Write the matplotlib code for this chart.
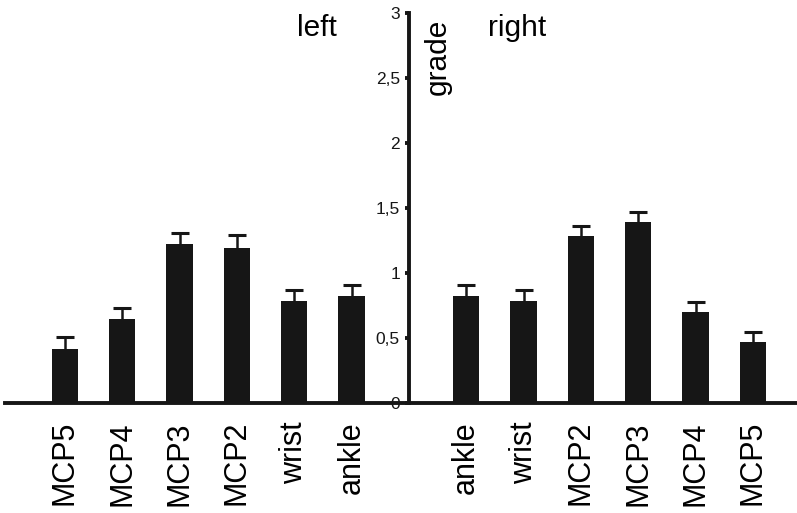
# grade per joint, left and right side, bars mirrored around the y axis

import numpy as np
import matplotlib
matplotlib.use("Agg")
import matplotlib.pyplot as plt

plt.rcParams['font.family'] = ['Liberation Sans', 'DejaVu Sans']

left_labels = ['MCP5', 'MCP4', 'MCP3', 'MCP2', 'wrist', 'ankle']
left_means = [0.415, 0.645, 1.225, 1.19, 0.785, 0.82]
left_err = [0.095, 0.085, 0.085, 0.10, 0.085, 0.09]

right_labels = ['ankle', 'wrist', 'MCP2', 'MCP3', 'MCP4', 'MCP5']
right_means = [0.82, 0.785, 1.285, 1.39, 0.70, 0.47]
right_err = [0.09, 0.085, 0.08, 0.08, 0.08, 0.08]

ytick_vals = [0, 0.5, 1, 1.5, 2, 2.5, 3]
ytick_labels = ['0', '0,5', '1', '1,5', '2', '2,5', '3']

bar_col = '#161616'

fig = plt.figure(figsize=(7.97, 5.13), dpi=100)
ax = fig.add_axes([0.006, 0.2144, 0.994, 0.7602])

xl = np.arange(-len(left_labels), 0)
xr = np.arange(1, len(right_labels) + 1)
xs = np.concatenate([xl, xr])
means = np.array(left_means + right_means)
errs = np.array(left_err + right_err)

ax.bar(xs, means, width=0.46, color=bar_col, zorder=2)
# symmetric error bars, the lower half is hidden behind the bars
ax.errorbar(xs, means, yerr=errs, fmt='none',
            ecolor=bar_col, elinewidth=1.8, capsize=6.8, capthick=2.2, zorder=1)

ax.set_xlim(-7.05, 6.77)
ax.set_ylim(0, 3)

ax.spines['top'].set_visible(False)
ax.spines['right'].set_visible(False)
ax.spines['left'].set_position(('data', 0))
ax.spines['left'].set_linewidth(2.8)
ax.spines['bottom'].set_linewidth(2.8)
ax.spines['left'].set_color(bar_col)
ax.spines['bottom'].set_color(bar_col)

ax.set_yticks(ytick_vals)
ax.set_yticklabels(ytick_labels, fontsize=12.5)
ax.tick_params(axis='y', direction='out', length=3, width=2.8, pad=3.5, colors=bar_col)

ax.set_xticks(xs)
ax.set_xticklabels(left_labels + right_labels, rotation=90, fontsize=22)
ax.tick_params(axis='x', length=0, pad=13)

ax.text(-1.61, 2.823, 'left', fontsize=21.5, ha='center', va='baseline')
ax.text(1.88, 2.823, 'right', fontsize=21.5, ha='center', va='baseline')
ax.text(0.5, 2.66, 'grade', fontsize=21.5, rotation=90, ha='center', va='center')

plt.savefig('out.png', dpi=100)
